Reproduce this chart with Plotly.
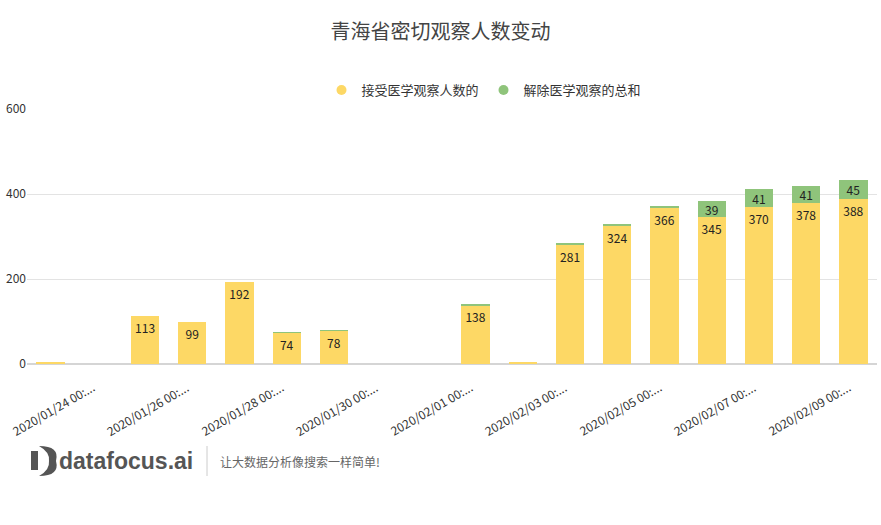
import plotly.graph_objects as go

dates = ["2020/01/23", "2020/01/24", "2020/01/25", "2020/01/26", "2020/01/27", "2020/01/28",
         "2020/01/29", "2020/01/30", "2020/01/31", "2020/02/01", "2020/02/02", "2020/02/03",
         "2020/02/04", "2020/02/05", "2020/02/06", "2020/02/07", "2020/02/08", "2020/02/09"]
accepted = [3, None, 113, 99, 192, 74, 78, None, None, 138, 3, 281, 324, 366, 345, 370, 378, 388]
released = [0, None, 0, 0, 0, 1, 2, None, None, 1, 0, 2, 6, 5, 39, 41, 41, 45]
tick_dates = ["2020/01/24", "2020/01/26", "2020/01/28", "2020/01/30", "2020/02/01",
              "2020/02/03", "2020/02/05", "2020/02/07", "2020/02/09"]
name_a = "接受医学观察人数的"
name_b = "解除医学观察的总和"
title = "青海省密切观察人数变动"

YELLOW = "#FDD865"
GREEN = "#8FC47B"
FONT = "Noto Sans CJK SC"

W, H = 881, 525
L, R, T, B = 27, 4, 109, 161
PW, PH = W - L - R, H - T - B


def px(x, y):
    return (x - L) / PW, (H - B - y) / PH


fig = go.Figure()
fig.add_trace(go.Bar(
    x=dates, y=accepted, name=name_a, marker=dict(color=YELLOW, line=dict(width=0)),
    text=[str(v) if v and v >= 10 else "" for v in accepted],
    textposition="inside", insidetextanchor="end", textangle=0,
    textfont=dict(size=12, color="#222", family=FONT), showlegend=False))
fig.add_trace(go.Bar(
    x=dates, y=released, name=name_b, marker=dict(color=GREEN, line=dict(width=0)),
    text=[str(v) if v and v >= 10 else "" for v in released],
    textposition="inside", insidetextanchor="middle", textangle=0,
    textfont=dict(size=12, color="#222", family=FONT), showlegend=False))
# legend entries with circular markers
fig.add_trace(go.Scatter(x=[None], y=[None], mode="markers", name=name_a,
                         marker=dict(color=YELLOW, size=10, symbol="circle")))
fig.add_trace(go.Scatter(x=[None], y=[None], mode="markers", name=name_b,
                         marker=dict(color=GREEN, size=10, symbol="circle")))

shapes = []
# logo icon
x0, y0 = px(31, 451)
x1, y1 = px(38, 470)
shapes.append(dict(type="rect", xref="paper", yref="paper", x0=x0, y0=y1, x1=x1, y1=y0,
                   fillcolor="#555", line=dict(width=0)))


def pt(x, y):
    a, b = px(x, y)
    return f"{a:.5f},{b:.5f}"


path = (f"M {pt(39, 446)} Q {pt(60, 446)} {pt(56, 461)} Q {pt(60, 476)} {pt(39, 476)} "
        f"Q {pt(50, 470)} {pt(49, 461)} Q {pt(50, 452)} {pt(39, 446)} Z")
shapes.append(dict(type="path", xref="paper", yref="paper", path=path,
                   fillcolor="#555", line=dict(width=0)))
# divider
dx, dy0 = px(207, 446)
_, dy1 = px(207, 476)
shapes.append(dict(type="line", xref="paper", yref="paper", x0=dx, x1=dx, y0=dy0, y1=dy1,
                   line=dict(color="#ccc", width=1)))

ax, ay = px(57, 461)
sx, sy = px(218, 461)
annotations = [
    dict(text="<b>datafocus.ai</b>", xref="paper", yref="paper", x=ax, y=ay,
         xanchor="left", yanchor="middle", showarrow=False,
         font=dict(size=23, color="#555", family="Arial, Liberation Sans")),
    dict(text="让大数据分析像搜索一样简单!", xref="paper", yref="paper", x=sx, y=sy,
         xanchor="left", yanchor="middle", showarrow=False,
         font=dict(size=12, color="#666", family=FONT)),
]
# rotated category tick labels
for d in tick_dates:
    annotations.append(dict(text=d + " 00:...", xref="x", yref="y", x=d, y=0,
                            xanchor="right", yanchor="top", textangle=-30,
                            xshift=2, yshift=-11, showarrow=False,
                            font=dict(size=12, color="#333", family=FONT)))

fig.update_layout(
    width=W, height=H,
    margin=dict(l=L, r=R, t=T, b=B),
    barmode="stack", bargap=0.4,
    plot_bgcolor="white", paper_bgcolor="white",
    font=dict(family=FONT, size=12, color="#333"),
    title=dict(text=title, x=0.5, xref="container", xanchor="center", y=1 - 32 / H,
               yanchor="middle", font=dict(size=20, color="#444", family=FONT)),
    legend=dict(orientation="h", x=px(484, 0)[0], xanchor="center",
                y=px(0, 90)[1], yanchor="middle", traceorder="normal",
                font=dict(size=13, color="#333", family=FONT), itemwidth=30,
                tracegroupgap=0),
    shapes=shapes, annotations=annotations,
    uniformtext=dict(minsize=12, mode="show"),
)
fig.update_xaxes(type="category", categoryorder="array", categoryarray=dates,
                 range=[-0.5, len(dates) - 0.5],
                 showticklabels=False, showgrid=False, showline=False, ticks="",
                 fixedrange=True)
fig.update_yaxes(range=[0, 600], tickvals=[0, 200, 400, 600], showgrid=True,
                 gridcolor="#E3E3E3", gridwidth=1, zeroline=True, zerolinecolor="#D5D5D5",
                 showline=False, ticks="", tickfont=dict(size=12, color="#333", family=FONT),
                 fixedrange=True)

fig.write_html("out.html", config={"displayModeBar": False},
               post_script="document.body.style.margin='0';document.body.style.overflow='hidden';")
